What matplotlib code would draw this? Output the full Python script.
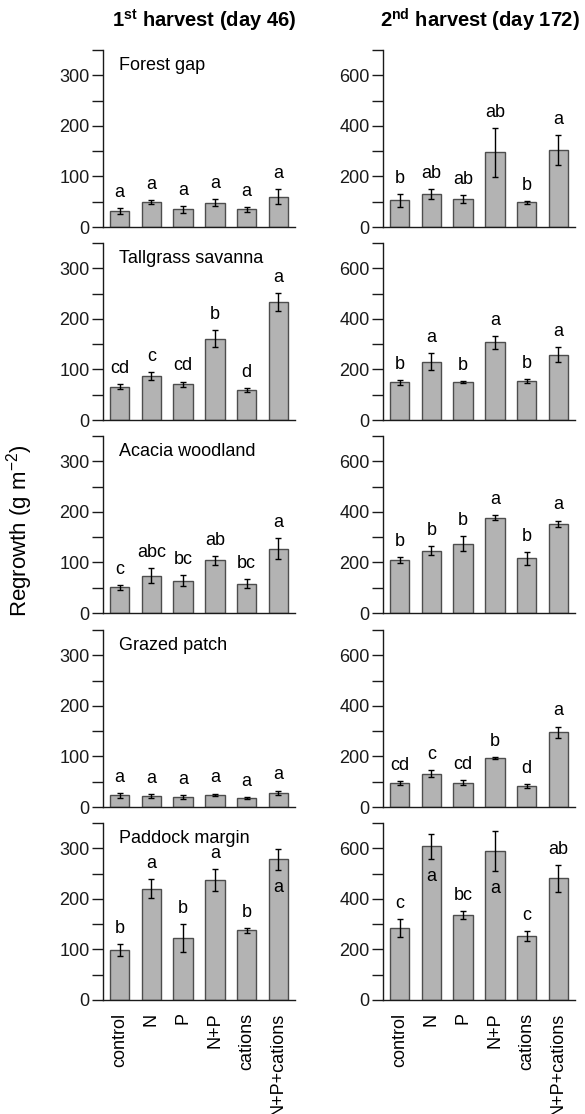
import matplotlib
matplotlib.use("Agg")
import matplotlib.pyplot as plt
from matplotlib.ticker import MultipleLocator

plt.rcParams['font.family'] = ['Liberation Sans', 'DejaVu Sans']
plt.rcParams['mathtext.fontset'] = 'custom'
plt.rcParams['mathtext.rm'] = 'Liberation Sans'
plt.rcParams['mathtext.it'] = 'Liberation Sans:italic'
plt.rcParams['mathtext.bf'] = 'Liberation Sans:bold'

treatments = ["control", "N", "P", "N+P", "cations", "N+P+cations"]
sites = ["Forest gap", "Tallgrass savanna", "Acacia woodland", "Grazed patch", "Paddock margin"]

# 1st harvest (day 46)
means1 = [
    [31, 49, 35, 48, 35, 60],
    [66, 87, 71, 161, 59, 233],
    [51, 74, 64, 104, 58, 127],
    [23, 22, 20, 24, 18, 28],
    [99, 220, 122, 237, 138, 278],
]
errs1 = [
    [6, 4.5, 7, 7, 4.5, 15],
    [4.6, 8.5, 5, 17.5, 4.6, 17.4],
    [4.6, 14, 10.5, 8.5, 8.5, 21],
    [5, 3.3, 4, 2.6, 2, 4.6],
    [12, 19, 28, 22, 5, 20],
]
letters1 = [
    ["a", "a", "a", "a", "a", "a"],
    ["cd", "c", "cd", "b", "d", "a"],
    ["c", "abc", "bc", "ab", "bc", "a"],
    ["a", "a", "a", "a", "a", "a"],
    ["b", "a", "b", "a", "b", "a"],
]
inside1 = [
    [0, 0, 0, 0, 0, 0],
    [0, 0, 0, 0, 0, 0],
    [0, 0, 0, 0, 0, 0],
    [0, 0, 0, 0, 0, 0],
    [0, 0, 0, 0, 0, 1],
]

# 2nd harvest (day 172)
means2 = [
    [105, 130, 111, 295, 97, 304],
    [149, 231, 150, 307, 154, 258],
    [210, 246, 274, 377, 216, 353],
    [94, 132, 96, 195, 84, 295],
    [285, 608, 335, 590, 253, 482],
]
errs2 = [
    [25, 20, 17, 97, 6, 58],
    [9, 32, 5, 26, 9, 30],
    [12, 18, 30, 10.5, 25, 12.5],
    [8.5, 14, 9, 4, 8, 23],
    [35, 50, 16, 78, 18, 53],
]
letters2 = [
    ["b", "ab", "ab", "ab", "b", "a"],
    ["b", "a", "b", "a", "b", "a"],
    ["b", "b", "b", "a", "b", "a"],
    ["cd", "c", "cd", "b", "d", "a"],
    ["c", "a", "bc", "a", "c", "ab"],
]
inside2 = [
    [0, 0, 0, 0, 0, 0],
    [0, 0, 0, 0, 0, 0],
    [0, 0, 0, 0, 0, 0],
    [0, 0, 0, 0, 0, 0],
    [0, 1, 0, 1, 0, 0],
]

W, H = 585, 1114
fig = plt.figure(figsize=(W / 100, H / 100), dpi=100)

FS = 13
bar_face = "#b3b3b3"
bar_edge = "#4d4d4d"
spine_c = "#1a1a1a"

col_left_px = [103, 383]
col_w_px = 192
row_top_px = [50, 243, 436, 630, 823]
row_h_px = 177

cols = [
    (means1, errs1, letters1, inside1, 350, 100, 50),
    (means2, errs2, letters2, inside2, 700, 200, 100),
]

x = list(range(len(treatments)))
for c, (means, errs, letters, inside, ymax, major, minor) in enumerate(cols):
    for r in range(len(sites)):
        left = col_left_px[c] / W
        bottom = 1 - (row_top_px[r] + row_h_px) / H
        ax = fig.add_axes([left, bottom, col_w_px / W, row_h_px / H])
        ax.bar(x, means[r], width=0.61, color=bar_face, edgecolor=bar_edge,
               linewidth=1.0, zorder=2)
        ax.errorbar(x, means[r], yerr=errs[r], fmt="none", ecolor="black",
                    elinewidth=1.0, capsize=2.5, capthick=1.0, zorder=3)
        for i in x:
            if inside[r][i]:
                ax.annotate(letters[r][i], (i, means[r][i] - errs[r][i]),
                            xytext=(0, -16), textcoords="offset points",
                            ha="center", va="baseline", fontsize=FS)
            else:
                ax.annotate(letters[r][i], (i, means[r][i] + errs[r][i]),
                            xytext=(0, 8), textcoords="offset points",
                            ha="center", va="baseline", fontsize=FS)
        ax.set_xlim(-0.52, 5.52)
        ax.set_ylim(0, ymax)
        ax.yaxis.set_major_locator(MultipleLocator(major))
        ax.yaxis.set_minor_locator(MultipleLocator(minor))
        ax.tick_params(axis="y", which="both", direction="out", length=8,
                       width=1.0, color=spine_c, labelsize=FS, pad=1.5)
        ax.tick_params(axis="y", which="major", labelcolor="#1a1a1a")
        for s in ["top", "right"]:
            ax.spines[s].set_visible(False)
        for s in ["left", "bottom"]:
            ax.spines[s].set_linewidth(1.0)
            ax.spines[s].set_color(spine_c)
        ax.set_xticks(x)
        if r == len(sites) - 1:
            ax.set_xticklabels(treatments, rotation=90, fontsize=FS)
            ax.tick_params(axis="x", length=0, pad=9)
        else:
            ax.set_xticklabels([])
            ax.tick_params(axis="x", length=0)
        if c == 0:
            ax.text(0.083, 0.915, sites[r], transform=ax.transAxes,
                    ha="left", va="center", fontsize=FS)

fig.text(204 / W, 1 - 20 / H, r"1$^{\mathbf{st}}$ harvest (day 46)",
         ha="center", va="center", fontsize=14.5, fontweight="bold")
fig.text(480 / W, 1 - 20 / H, r"2$^{\mathbf{nd}}$ harvest (day 172)",
         ha="center", va="center", fontsize=14.5, fontweight="bold")
fig.text(20 / W, 1 - 531 / H, r"Regrowth (g m$^{-2}$)", rotation=90,
         ha="center", va="center", fontsize=16)

fig.savefig("out.png", dpi=100, facecolor="white")
